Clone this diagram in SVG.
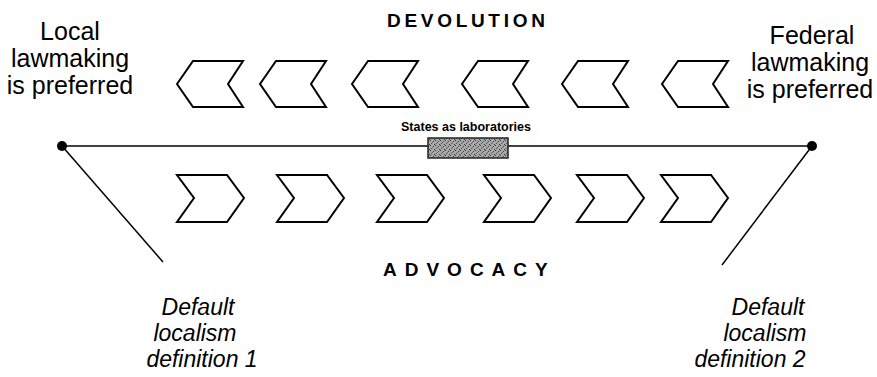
<svg xmlns="http://www.w3.org/2000/svg" xmlns:xlink="http://www.w3.org/1999/xlink" width="877" height="377" viewBox="0 0 877 377">
<style>
.chev{fill:#fff;stroke:#000;stroke-width:2;stroke-linejoin:miter}
.lbl{font-family:"Liberation Sans",Arial,sans-serif;font-size:25px;fill:#000;text-anchor:middle}
.it{font-style:italic;font-size:23px}
.head{font-family:"Liberation Sans",Arial,sans-serif;font-size:19px;font-weight:bold;fill:#000}
.small{font-family:"Liberation Sans",Arial,sans-serif;font-size:12.5px;font-weight:bold;text-anchor:middle;fill:#000}
.ln{stroke:#000;stroke-width:1.5;fill:none}
</style>
<defs>
<polygon id="chevL" class="chev" points="0,23 16,0 66,0 51,23 66,46 16,46"/>
<polygon id="chevR" class="chev" points="0,0 50,0 67,23 50,47 0,47 17,23"/>
<pattern id="stip" width="5" height="5" patternUnits="userSpaceOnUse">
<rect width="5" height="5" fill="#a8a8a8"/>
<rect x="0" y="0" width="1" height="1" fill="#333"/>
<rect x="3" y="1" width="1" height="1" fill="#444"/>
<rect x="1" y="3" width="1" height="1" fill="#555"/>
<rect x="4" y="4" width="1" height="1" fill="#3a3a3a"/>
<rect x="2" y="2" width="1" height="1" fill="#666"/>
</pattern>
</defs>
<rect width="877" height="377" fill="#fff"/>
<g id="connectors">
<line class="ln" x1="62" y1="146" x2="812" y2="146"/>
<line class="ln" x1="62" y1="146" x2="163" y2="262"/>
<line class="ln" x1="812" y1="146" x2="722" y2="265"/>
</g>
<g id="dot-left"><circle cx="62" cy="146" r="5" fill="#000"/></g>
<g id="dot-right"><circle cx="812" cy="146" r="5" fill="#000"/></g>
<g id="lab-box">
<rect x="428" y="138" width="80" height="20" fill="url(#stip)" stroke="#222" stroke-width="1.5"/>
<text class="small" x="466" y="131">States as laboratories</text>
</g>
<g id="devolution">
<text class="head" x="387" y="27" letter-spacing="3.7">DEVOLUTION</text>
<use xlink:href="#chevL" x="177" y="61"/>
<use xlink:href="#chevL" x="260" y="61"/>
<use xlink:href="#chevL" x="352" y="61"/>
<use xlink:href="#chevL" x="462" y="61"/>
<use xlink:href="#chevL" x="562" y="61"/>
<use xlink:href="#chevL" x="662" y="61"/>
</g>
<g id="advocacy">
<text class="head" x="383" y="276" letter-spacing="8">ADVOCACY</text>
<use xlink:href="#chevR" x="177" y="175"/>
<use xlink:href="#chevR" x="277" y="175"/>
<use xlink:href="#chevR" x="377" y="175"/>
<use xlink:href="#chevR" x="484" y="175"/>
<use xlink:href="#chevR" x="577" y="175"/>
<use xlink:href="#chevR" x="661" y="175"/>
</g>
<g id="local">
<text class="lbl" x="70" y="40">Local</text>
<text class="lbl" x="70" y="67">lawmaking</text>
<text class="lbl" x="70" y="94">is preferred</text>
</g>
<g id="federal">
<text class="lbl" x="812" y="44">Federal</text>
<text class="lbl" x="810" y="71">lawmaking</text>
<text class="lbl" x="810" y="98">is preferred</text>
</g>
<g id="def1">
<text class="lbl it" x="198" y="315">Default</text>
<text class="lbl it" x="195" y="341">localism</text>
<text class="lbl it" x="202" y="367">definition 1</text>
</g>
<g id="def2">
<text class="lbl it" x="768" y="315">Default</text>
<text class="lbl it" x="765" y="341">localism</text>
<text class="lbl it" x="750" y="367">definition 2</text>
</g>
</svg>
